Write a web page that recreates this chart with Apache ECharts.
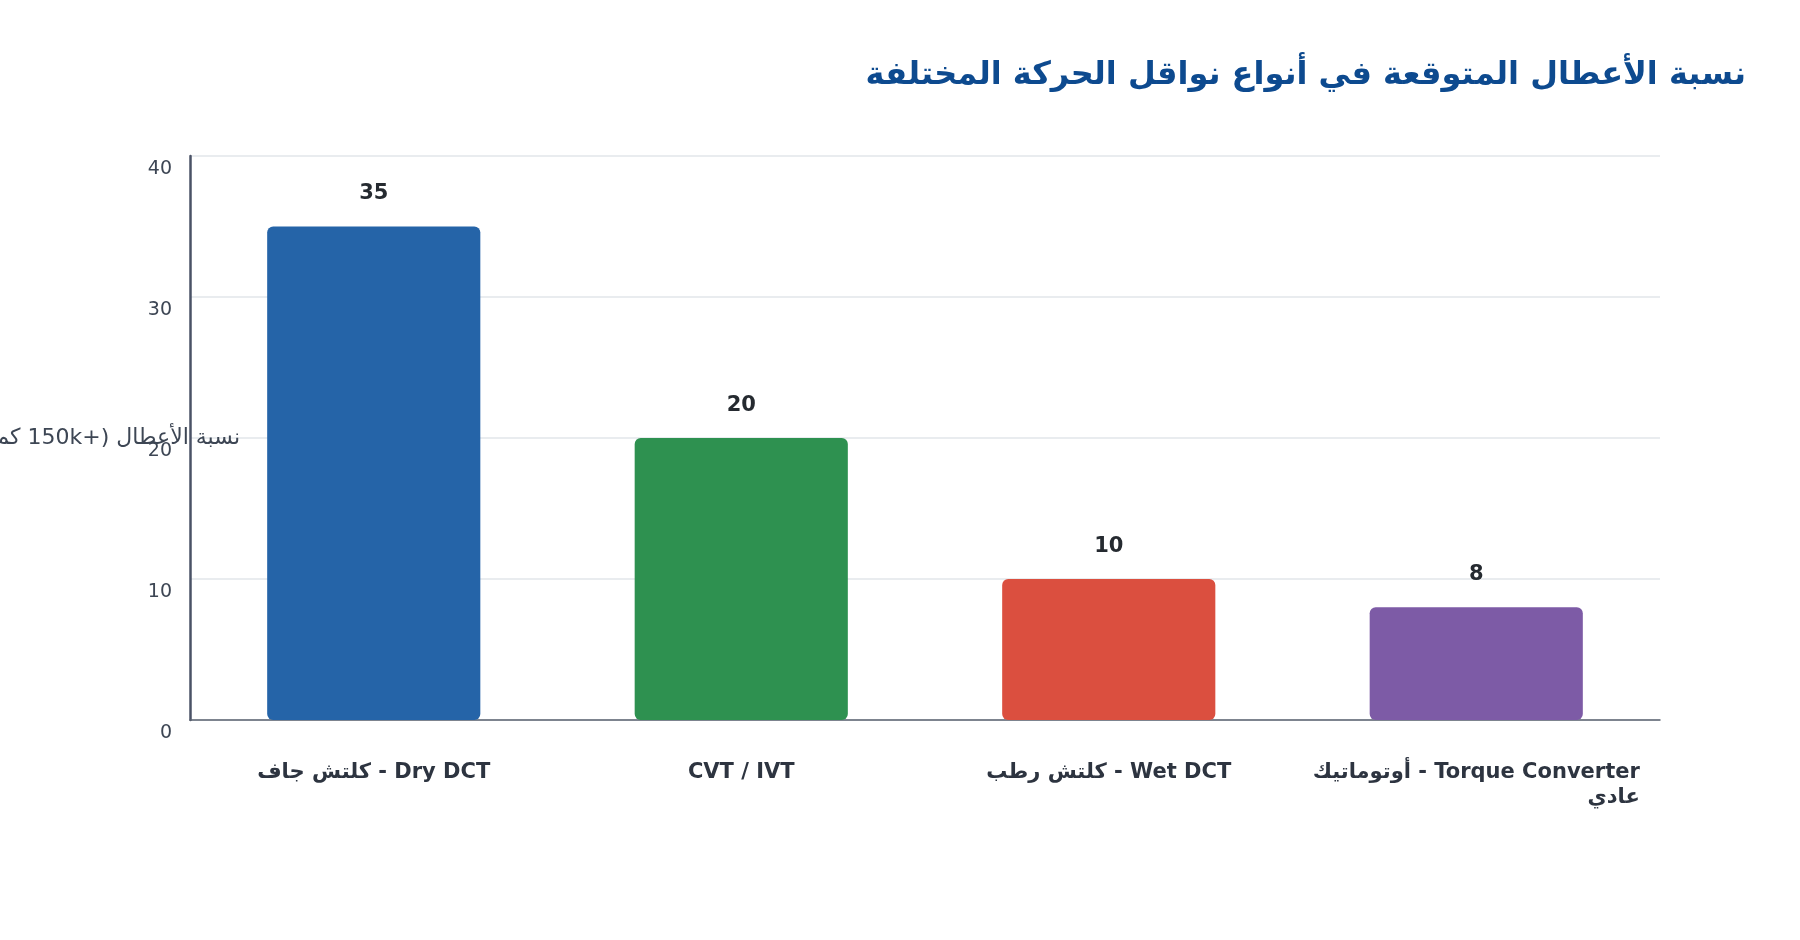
<!DOCTYPE html>
<html dir="rtl" lang="ar">
<head>
<meta charset="utf-8">
<title>نسبة الأعطال المتوقعة</title>
<script src="https://cdn.jsdelivr.net/npm/echarts@6/dist/echarts.min.js"></script>
<style>
	html, body { margin: 0; padding: 0; background: #fff; }
	#chart { width: 1800px; height: 940px; }
</style>
</head>
<body>
<div id="chart"></div>
<script>
// البيانات
var categories = ['Dry DCT - كلتش جاف', 'CVT / IVT', 'Wet DCT - كلتش رطب', 'Torque Converter - أوتوماتيك عادي'];
var failureRates = [35, 20, 10, 8];
var barColors = ['#2564a8', '#2e9150', '#db4f3f', '#7d5ba6'];
var yTicks = [0, 10, 20, 30, 40];

var font = 'DejaVu Sans';
var myChart = echarts.init(document.getElementById('chart'));

// الأسماء الطويلة تنكسر قبل آخر كلمة، والسطر الثاني يلتصق باليمين
function wrapLabel(v) {
	if (v.length <= 30) {
		return '{l1|' + v + '}';
	}
	var cut = v.lastIndexOf(' ');
	return '{l1|' + v.slice(0, cut) + '}\n{l2|' + v.slice(cut + 1) + '}';
}

var labelText = {
	fontSize : 21,
	fontWeight : 'bold',
	color : '#2d3440',
	fontFamily : font,
	lineHeight : 25
};

var option = {
	textStyle : { fontFamily : font },
	title : {
		text : 'نسبة الأعطال المتوقعة في أنواع نواقل الحركة المختلفة',
		right : 49,
		top : 55,
		textStyle : {
			fontFamily : font,
			fontSize : 32,
			fontWeight : 'bold',
			color : '#0d4a8f'
		}
	},
	grid : {
		left : 190,
		right : 140,
		top : 156,
		bottom : 220,
		outerBoundsMode : 'none'
	},
	xAxis : {
		type : 'category',
		data : categories,
		axisTick : { show : false },
		axisLine : { lineStyle : { color : '#5a6270', width : 1.5 } },
		axisLabel : {
			interval : 0,
			margin : 40,
			verticalAlign : 'top',
			formatter : wrapLabel,
			rich : {
				l1 : echarts.util.extend({ align : 'center' }, labelText),
				l2 : echarts.util.extend({ align : 'right' }, labelText)
			}
		}
	},
	yAxis : {
		type : 'value',
		min : yTicks[0],
		max : yTicks[yTicks.length - 1],
		interval : 10,
		name : 'نسبة الأعطال (+150k كم)',
		nameLocation : 'middle',
		nameRotate : 0,
		nameGap : -50,
		nameMoveOverlap : false,
		nameTextStyle : { fontSize : 22, color : '#3d4654', fontFamily : font },
		axisLine : { show : true, lineStyle : { color : '#4a5266', width : 2.5 } },
		axisTick : { show : false },
		splitLine : { lineStyle : { color : '#e2e6ea', width : 1.5 } },
		axisLabel : {
			margin : 18,
			fontSize : 19,
			color : '#3d4654',
			verticalAlign : 'top',
			padding : [4, 0, 0, 0],
			fontFamily : font
		}
	},
	series : [ {
		type : 'bar',
		data : failureRates.map(function(v, i) {
			return { value : v, itemStyle : { color : barColors[i] } };
		}),
		barWidth : '58%',
		itemStyle : { borderRadius : 6 },
		label : {
			show : true,
			position : 'top',
			distance : 22,
			fontSize : 21,
			fontWeight : 'bold',
			color : '#252a30',
			fontFamily : font
		}
	} ]
};
myChart.setOption(option);
</script>
</body>
</html>
